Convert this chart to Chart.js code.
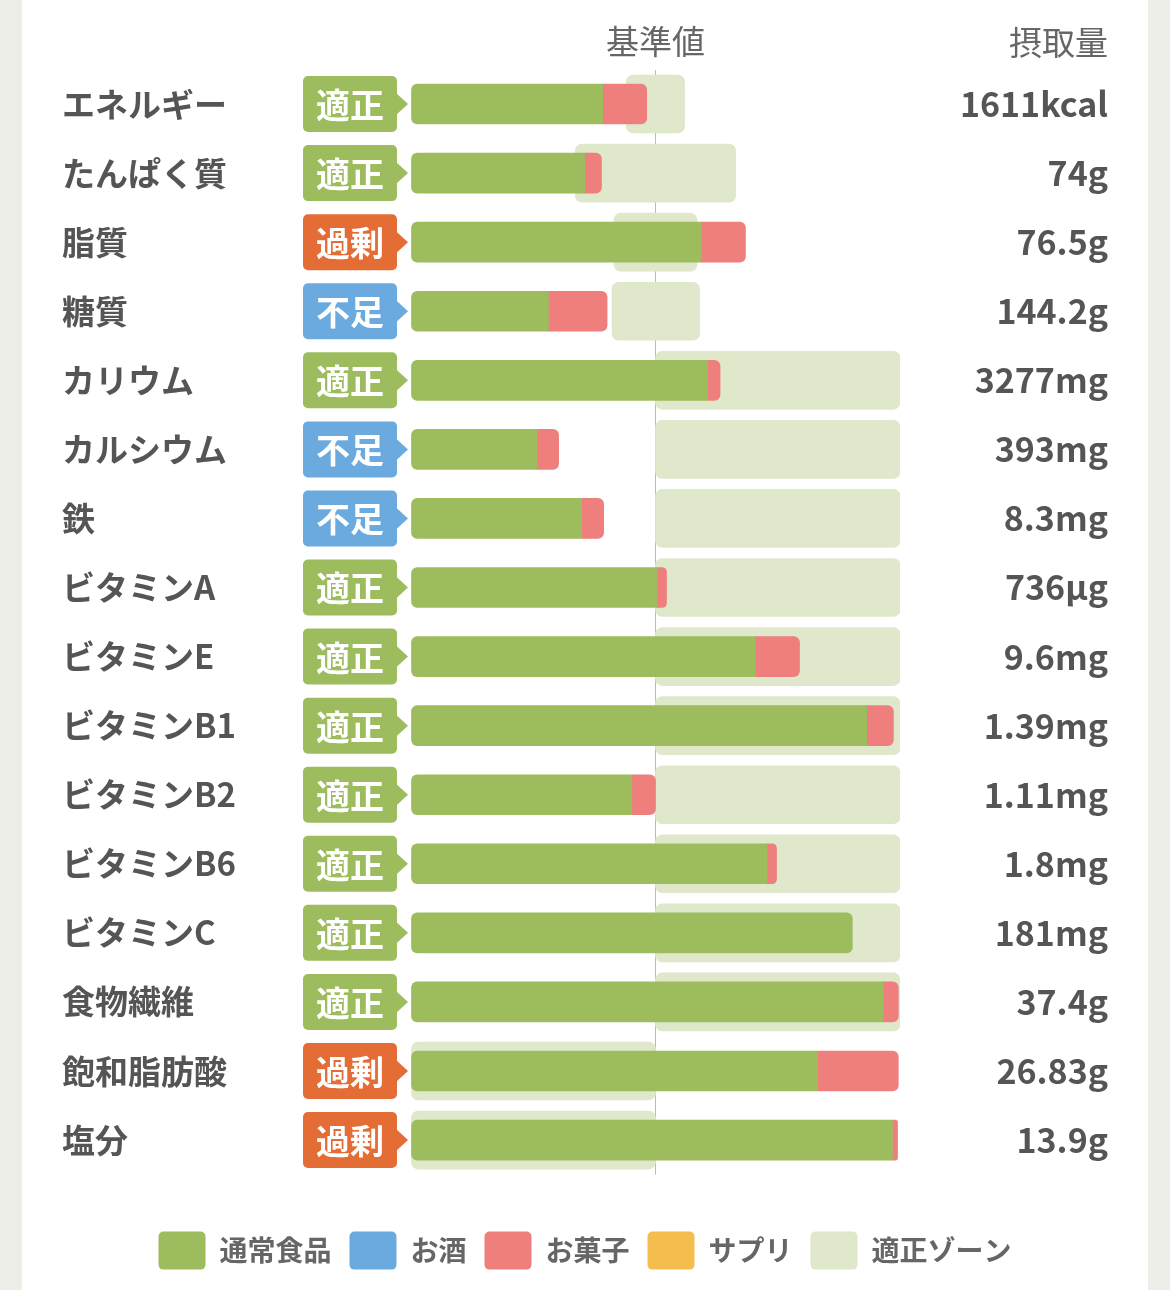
<!DOCTYPE html>
<html lang="ja">
<head>
<meta charset="utf-8">
<title>栄養素バランス</title>
<script src="https://cdn.jsdelivr.net/npm/chart.js@4.4.1/dist/chart.umd.min.js"></script>
<style>
  html, body { margin: 0; padding: 0; background: #eeeee8; }
  .card { position: absolute; left: 22px; top: 0; width: 1126px; height: 1290px; background: #fff; }
  .wrap { position: absolute; left: 0; top: 0; width: 1170px; height: 1290px; }
</style>
</head>
<body>
<div class="card"></div>
<div class="wrap"><canvas id="nutrientChart"></canvas></div>
<script>
const FONT = "'Noto Sans CJK JP', 'Noto Sans', sans-serif";

// 栄養素
const nutrients = ['エネルギー', 'たんぱく質', '脂質', '糖質', 'カリウム', 'カルシウム', '鉄', 'ビタミンA',
  'ビタミンE', 'ビタミンB1', 'ビタミンB2', 'ビタミンB6', 'ビタミンC', '食物繊維', '飽和脂肪酸', '塩分'];
// 判定
const statuses = ['適正', '適正', '過剰', '不足', '適正', '不足', '不足', '適正',
  '適正', '適正', '適正', '適正', '適正', '適正', '過剰', '過剰'];
// 摂取量ラベル
const intake = ['1611kcal', '74g', '76.5g', '144.2g', '3277mg', '393mg', '8.3mg', '736µg',
  '9.6mg', '1.39mg', '1.11mg', '1.8mg', '181mg', '37.4g', '26.83g', '13.9g'];

// 基準値に対する % (100 = 基準値)
const normalFood = [78.4, 71.0, 118.7, 56.2, 121.3, 51.4, 69.8, 100.6, 140.8, 186.4, 90.3, 145.6, 180.5, 193.1, 166.3, 196.9];
const alcohol    = [0, 0, 0, 0, 0, 0, 0, 0, 0, 0, 0, 0, 0, 0, 0, 0];
const sweets     = [18.0, 6.9, 18.1, 24.0, 5.1, 9.0, 9.0, 3.9, 18.1, 10.9, 9.7, 3.9, 0, 6.2, 33.0, 2.1];
const supplement = [0, 0, 0, 0, 0, 0, 0, 0, 0, 0, 0, 0, 0, 0, 0, 0];
const zoneLow    = [88.1, 67.2, 83.0, 82.2, 100, 100, 100, 100, 100, 100, 100, 100, 100, 100, 0, 0];
const zoneHigh   = [111.9, 132.8, 117.0, 118.1, 200, 200, 200, 200, 200, 200, 200, 200, 200, 200, 100, 100];

const badgeColors = { '適正': '#9dbc5e', '過剰': '#e46c35', '不足': '#6aaade' };

Chart.defaults.font.family = FONT;

// 積み上げの両端だけ角を丸める
function radiusFor(ctx) {
  const i = ctx.dataIndex;
  const name = ctx.dataset.label;
  const after = (name === '通常食品' ? alcohol[i] + sweets[i] + supplement[i] :
                 name === 'お酒' ? sweets[i] + supplement[i] :
                 name === 'お菓子' ? supplement[i] : 0);
  const before = (name === '通常食品' ? 0 :
                  name === 'お酒' ? normalFood[i] :
                  name === 'お菓子' ? normalFood[i] + alcohol[i] :
                  normalFood[i] + alcohol[i] + sweets[i]);
  const l = before > 0 ? 0 : 6;
  const r = after > 0 ? 0 : 6;
  return { topLeft: l, bottomLeft: l, topRight: r, bottomRight: r };
}

// 0 の区間は描かない
const noZero = arr => arr.map(v => v === 0 ? null : v);

const badgePlugin = {
  id: 'badges',
  afterDraw(chart) {
    const {ctx, chartArea, scales} = chart;
    ctx.save();
    statuses.forEach((s, i) => {
      const y = scales.y.getPixelForValue(i);
      const right = chartArea.left - 14;
      const left = chartArea.left - 108;
      ctx.fillStyle = badgeColors[s];
      ctx.beginPath();
      ctx.roundRect(left, y - 28, right - left, 56, 5);
      ctx.fill();
      ctx.beginPath();
      ctx.moveTo(right - 1, y - 11);
      ctx.lineTo(right + 11, y);
      ctx.lineTo(right - 1, y + 11);
      ctx.closePath();
      ctx.fill();
      ctx.fillStyle = '#fff';
      ctx.font = 'bold 34px ' + FONT;
      ctx.textAlign = 'center';
      ctx.textBaseline = 'middle';
      ctx.fillText(s, (left + right) / 2, y + 1);
    });
    ctx.fillStyle = '#666';
    ctx.font = '33px ' + FONT;
    ctx.textAlign = 'right';
    ctx.textBaseline = 'middle';
    ctx.fillText('摂取量', scales.y2.right, chartArea.top - 27);
    ctx.restore();
  }
};

const barBase = {
  stack: 'intake', grouped: false, maxBarThickness: 40, categoryPercentage: 1, barPercentage: 1,
  borderSkipped: false, borderRadius: radiusFor, order: 0
};

new Chart(document.getElementById('nutrientChart'), {
  type: 'bar',
  data: {
    labels: nutrients,
    datasets: [
      { ...barBase, label: '通常食品', data: noZero(normalFood), backgroundColor: '#9dbc5e' },
      { ...barBase, label: 'お酒', data: noZero(alcohol), backgroundColor: '#6aaade' },
      { ...barBase, label: 'お菓子', data: noZero(sweets), backgroundColor: '#ee7f7c' },
      { ...barBase, label: 'サプリ', data: noZero(supplement), backgroundColor: '#f5bd4e' },
      {
        label: '適正ゾーン',
        data: zoneLow.map((lo, i) => [lo, zoneHigh[i]]),
        backgroundColor: '#dfe8cb',
        stack: 'zone', grouped: false, maxBarThickness: 58, categoryPercentage: 1, barPercentage: 1,
        borderSkipped: false, borderRadius: 7, order: 1
      }
    ]
  },
  options: {
    indexAxis: 'y',
    responsive: true,
    maintainAspectRatio: false,
    animation: false,
    layout: { padding: { left: 62, right: 62, top: 0, bottom: 10.4 } },
    scales: {
      x: {
        type: 'linear', position: 'top', stacked: true, min: 0, max: 200, z: 1,
        border: { display: false },
        grid: {
          drawTicks: false,
          color: c => (c.tick && c.tick.value === 100) ? 'rgba(140,140,140,0.6)' : 'rgba(0,0,0,0)',
          lineWidth: 1
        },
        ticks: {
          stepSize: 100, padding: 8, color: '#666', font: { size: 33 },
          callback: v => v === 100 ? '基準値' : ''
        },
        afterFit: s => { s.height = 69.5; }
      },
      y: {
        position: 'left',
        border: { display: false },
        grid: { display: false },
        ticks: { crossAlign: 'far', color: '#555', font: { size: 33, weight: 'bold' } },
        afterFit: s => { s.width = 349; }
      },
      y2: {
        type: 'category', labels: intake, position: 'right', offset: true,
        border: { display: false },
        grid: { display: false },
        ticks: { crossAlign: 'far', color: '#555', font: { size: 34, weight: 'bold' } },
        afterFit: s => { s.width = 208; }
      }
    },
    plugins: {
      tooltip: { enabled: false },
      legend: {
        position: 'bottom',
        title: { display: true, text: '', padding: { top: 29, bottom: 0 }, font: { size: 10, lineHeight: 1 } },
        labels: {
          boxWidth: 47, boxHeight: 38, padding: 18, useBorderRadius: true, borderRadius: 5,
          color: '#666', font: { size: 28, weight: 'bold' }
        }
      }
    }
  },
  plugins: [badgePlugin]
});
</script>
</body>
</html>
